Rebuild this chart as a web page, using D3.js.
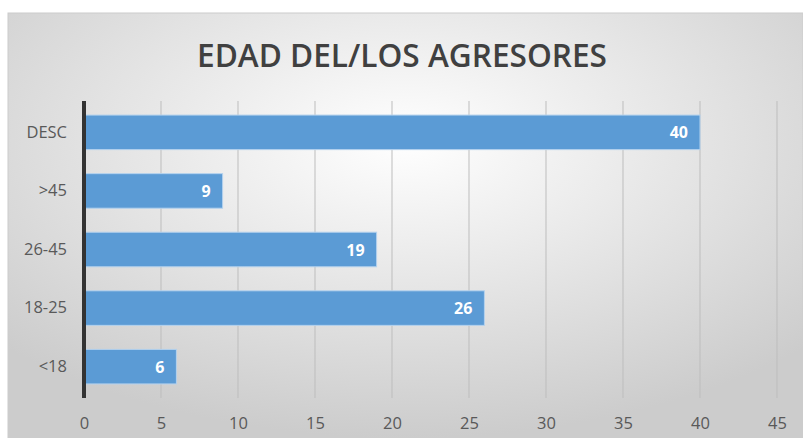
<!DOCTYPE html>
<html>
<head>
<meta charset="utf-8">
<script src="https://cdn.jsdelivr.net/npm/d3@7"></script>
<style>
  body { margin: 0; background: #fff; }
  svg { display: block; font-family: "Open Sans", sans-serif; }
</style>
</head>
<body>
<svg id="chart"></svg>
<script>
// data
const categories = ["DESC", ">45", "26-45", "18-25", "<18"];
const values = [40, 9, 19, 26, 6];
const xTicks = [0, 5, 10, 15, 20, 25, 30, 35, 40, 45];

const width = 803, height = 438;
const svg = d3.select("#chart").attr("width", width).attr("height", height);

// background gradient like the Excel chart area
const defs = svg.append("defs");
const grad = defs.append("radialGradient").attr("id", "bg")
    .attr("cx", "50%").attr("cy", "30%").attr("r", "70%");
grad.append("stop").attr("offset", "0%").attr("stop-color", "#ffffff");
grad.append("stop").attr("offset", "100%").attr("stop-color", "#cccccc");

svg.append("rect")
    .attr("x", 8).attr("y", 13)
    .attr("width", width - 8).attr("height", height - 13)
    .attr("fill", "url(#bg)")
    .attr("stroke", "#cccccc");

svg.append("text")
    .attr("x", 402).attr("y", 67)
    .attr("text-anchor", "middle")
    .attr("font-size", 33).attr("font-weight", 600)
    .attr("textLength", 410).attr("lengthAdjust", "spacingAndGlyphs")
    .attr("fill", "#404040")
    .text("EDAD DEL/LOS AGRESORES");

const margin = { left: 84, right: 26, top: 101, bottom: 40 };
const x = d3.scaleLinear().domain([0, 45]).range([margin.left, width - margin.right]);
const y = d3.scaleBand().domain(categories)
    .range([margin.top, height - margin.bottom]).paddingInner(0.41).paddingOuter(0.24);

// gridlines
svg.append("g").selectAll("line")
    .data(xTicks.slice(1)).enter().append("line")
    .attr("x1", d => x(d)).attr("x2", d => x(d))
    .attr("y1", margin.top).attr("y2", height - margin.bottom)
    .attr("stroke", "#bdbdbd").attr("stroke-width", 1);

// bars
svg.append("g").selectAll("rect")
    .data(values).enter().append("rect")
    .attr("x", x(0))
    .attr("y", (d, i) => y(categories[i]))
    .attr("width", d => x(d) - x(0))
    .attr("height", y.bandwidth())
    .attr("fill", "#5b9bd5")
    .attr("stroke", "#b4d2ee").attr("stroke-width", 1);

// value labels
svg.append("g").selectAll("text")
    .data(values).enter().append("text")
    .attr("x", d => x(d) - 12)
    .attr("y", (d, i) => y(categories[i]) + y.bandwidth() / 2 + 6)
    .attr("text-anchor", "end")
    .attr("font-size", 16).attr("font-weight", 700)
    .attr("fill", "#ffffff")
    .text(d => d);

// x axis labels
const xAxis = svg.append("g")
    .attr("transform", `translate(0,${height - margin.bottom})`)
    .call(d3.axisBottom(x).tickValues(xTicks).tickSize(0).tickPadding(19));
xAxis.select(".domain").remove();
xAxis.selectAll("text").attr("font-size", 16.5).attr("fill", "#595959")
    .attr("font-family", "Open Sans, sans-serif");

// y axis
const yAxis = svg.append("g")
    .attr("transform", `translate(${x(0)},0)`)
    .call(d3.axisLeft(y).tickSize(0).tickPadding(17));
yAxis.select(".domain").attr("stroke", "#333").attr("stroke-width", 4)
    .attr("d", `M0,${margin.top}V${height - margin.bottom}`);
yAxis.selectAll("text").attr("font-size", 16.5).attr("fill", "#595959")
    .attr("font-family", "Open Sans, sans-serif");
</script>
</body>
</html>
